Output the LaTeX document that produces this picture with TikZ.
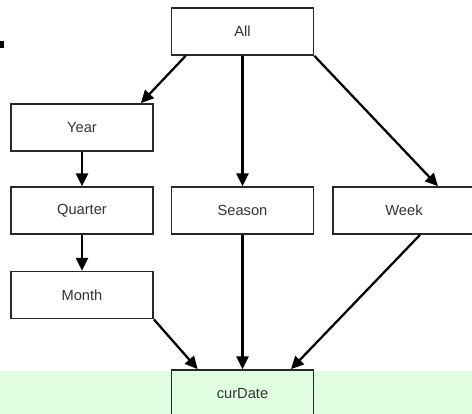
\documentclass[tikz,border=0pt]{standalone}
\usepackage{fontspec}
\setsansfont{Liberation Sans}
\usetikzlibrary{arrows.meta,calc}
\definecolor{bandgreen}{RGB}{224,255,224}
\definecolor{boxline}{RGB}{40,40,40}
\begin{document}
\begin{tikzpicture}[x=0.75pt, y=-0.75pt,
  every node/.style={font=\sffamily\fontsize{11}{13}\selectfont, text=black!80},
  box/.style={draw=boxline, line width=1.3pt, fill=white, minimum width=106.5pt, minimum height=35.25pt, inner sep=0pt},
  link/.style={line width=1.7pt, -{Triangle[length=9.5pt,width=9pt]}}]
  \useasboundingbox (0,0) rectangle (472,414);
  \clip (0,0) rectangle (472,414);
  \fill[bandgreen] (0,371) rectangle (472,414);
  \fill[black] (0,41) rectangle (4,48);
  % levels
  \node[box] (all) at (242.5,31.5) {All};
  \node[box] (year) at (82,127.5) {Year};
  \node[box] (quarter) at (82,210.5) {Quarter};
  \node[box] (season) at (242.5,210.5) {Season};
  \node[box] (week) at (404,210.5) {Week};
  \node[box] (month) at (82,295) {Month};
  \node[box,fill=bandgreen] (cur) at (242.5,393.5) {curDate};
  % arrows
  \draw[link] ($(all.south west)+(15,0)$) -- ($(year.north east)+(-13,0)$);
  \draw[link] (all) -- (season);
  \draw[link] (all.south east) -- ($(week.north)+(34,0)$);
  \draw[link] (year) -- (quarter);
  \draw[link] (quarter) -- (month);
  \draw[link] (month.south east) -- ($(cur.north west)+(27,0)$);
  \draw[link] (season) -- (cur);
  \draw[link] ($(week.south)+(16,0)$) -- ($(cur.north)+(48.5,0)$);
\end{tikzpicture}
\end{document}
